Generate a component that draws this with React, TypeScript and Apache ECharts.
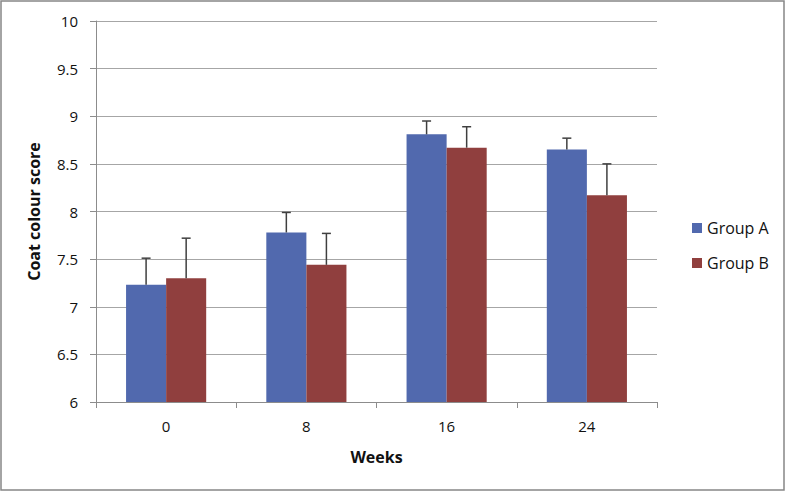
import React, { useEffect, useRef } from "react";
import * as echarts from "echarts";

const categories = ["0", "8", "16", "24"];
const groupA = [7.23, 7.78, 8.81, 8.65];
const groupAErr = [0.28, 0.21, 0.14, 0.12];
const groupB = [7.3, 7.44, 8.67, 8.17];
const groupBErr = [0.42, 0.33, 0.22, 0.33];
const seriesNames = ["Group A", "Group B"];

const FONT = "'Open Sans', sans-serif";
const BAR_PCT = 0.2857;

function errorSeries(values: number[], errs: number[], side: number) {
  return {
    type: "custom",
    name: "err" + side,
    z: 5,
    silent: true,
    data: values.map((v, i) => [i, v, v + errs[i]]),
    renderItem: (params: any, api: any) => {
      const bandW = api.size([1, 0])[0];
      const off = side * bandW * BAR_PCT * 0.5;
      const base = api.coord([api.value(0), api.value(1)]);
      const top = api.coord([api.value(0), api.value(2)]);
      const x = base[0] + off;
      const style = { stroke: "#3f3f3f", lineWidth: 1.5 };
      return {
        type: "group",
        children: [
          { type: "line", shape: { x1: x, y1: base[1], x2: x, y2: top[1] }, style },
          { type: "line", shape: { x1: x - 4.5, y1: top[1], x2: x + 4.5, y2: top[1] }, style },
        ],
      };
    },
  };
}

export default function App() {
  const ref = useRef<HTMLDivElement>(null);
  useEffect(() => {
    document.body.style.margin = "0";
    const chart = echarts.init(ref.current!, null, { renderer: "svg" });
    chart.setOption({
      animation: false,
      backgroundColor: "#ffffff",
      textStyle: { fontFamily: FONT },
      graphic: [
        {
          type: "rect",
          shape: { x: 1, y: 1, width: 783, height: 489 },
          style: { fill: "none", stroke: "#878787", lineWidth: 1.5 },
          z: -1,
        },
      ],
      grid: { left: 96, right: 130, top: 21, bottom: 91 },
      legend: {
        orient: "vertical",
        left: 687,
        top: 215,
        itemWidth: 10,
        itemHeight: 10,
        itemGap: 19,
        data: seriesNames,
        textStyle: { fontFamily: FONT, fontSize: 16, color: "#111" },
        icon: "rect",
      },
      xAxis: {
        type: "category",
        data: categories,
        name: "Weeks",
        nameLocation: "middle",
        nameGap: 47,
        nameTextStyle: { fontFamily: FONT, fontSize: 16, fontWeight: "bold", color: "#111" },
        axisLine: { lineStyle: { color: "#8c8c8c", width: 1 } },
        axisTick: { show: true, length: 6, lineStyle: { color: "#8c8c8c" } },
        axisLabel: { fontFamily: FONT, fontSize: 15, color: "#111", margin: 16 },
      },
      yAxis: {
        type: "value",
        min: 6,
        max: 10,
        interval: 0.5,
        name: "Coat colour score",
        nameLocation: "middle",
        nameGap: 54,
        nameTextStyle: { fontFamily: FONT, fontSize: 16, fontWeight: "bold", color: "#111" },
        axisLine: { show: true, lineStyle: { color: "#8c8c8c", width: 1 } },
        axisTick: { show: true, length: 6, lineStyle: { color: "#8c8c8c" } },
        axisLabel: { fontFamily: FONT, fontSize: 15, color: "#111", margin: 18 },
        splitLine: { lineStyle: { color: "#a6a6a6", width: 1 } },
      },
      series: [
        {
          type: "bar",
          name: seriesNames[0],
          data: groupA,
          barWidth: (BAR_PCT * 100).toFixed(2) + "%",
          barGap: "0%",
          itemStyle: { color: "#5169ae" },
        },
        {
          type: "bar",
          name: seriesNames[1],
          data: groupB,
          barWidth: (BAR_PCT * 100).toFixed(2) + "%",
          barGap: "0%",
          itemStyle: { color: "#903f3e" },
        },
        errorSeries(groupA, groupAErr, -1),
        errorSeries(groupB, groupBErr, 1),
      ],
    });
    return () => chart.dispose();
  }, []);
  return <div ref={ref} style={{ width: 787, height: 493 }} />;
}
